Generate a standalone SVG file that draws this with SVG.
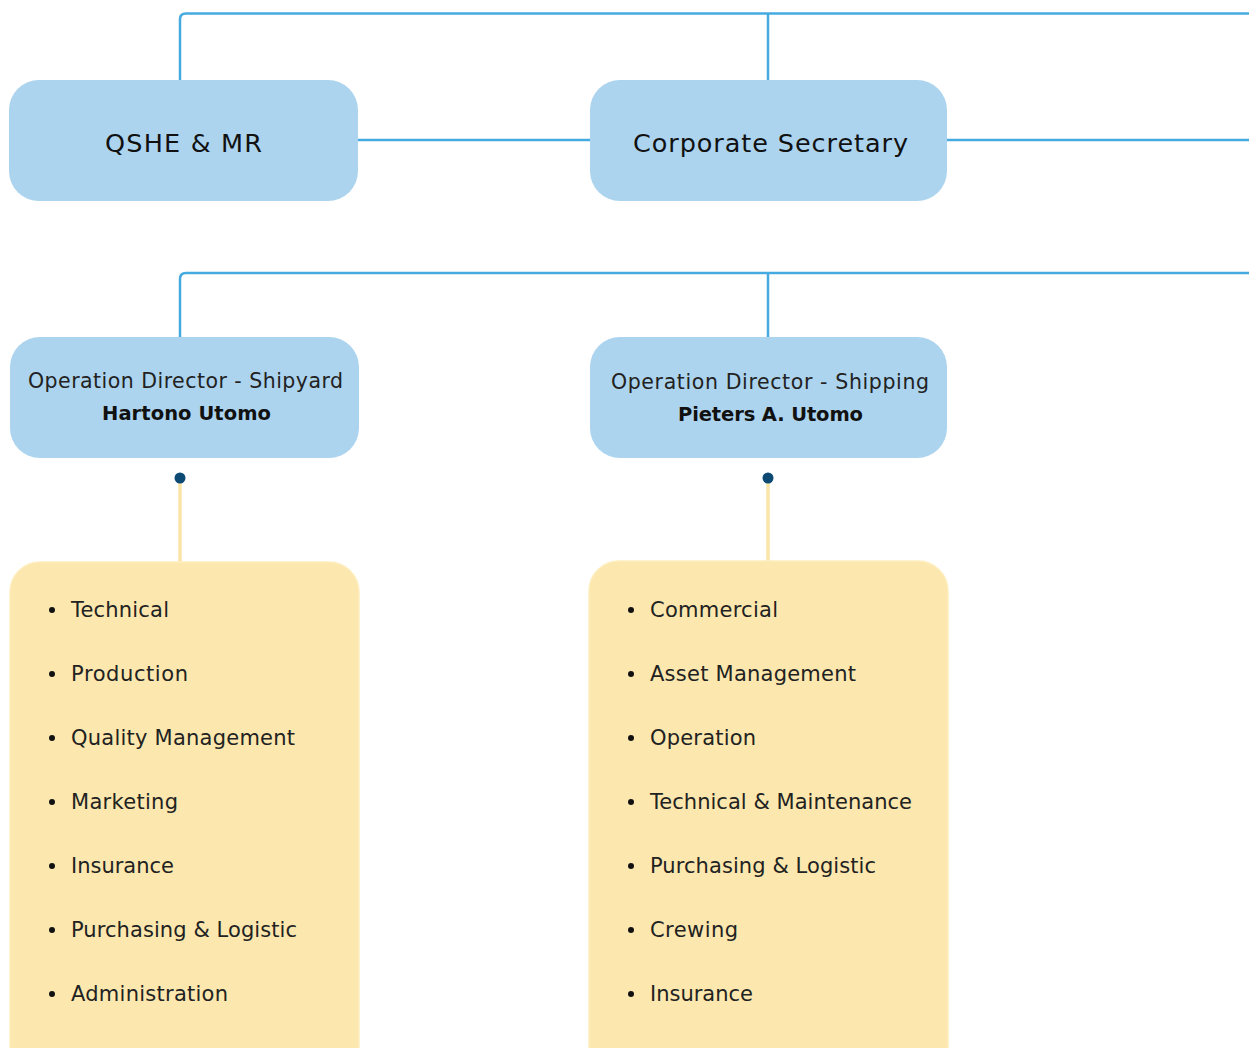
<svg xmlns="http://www.w3.org/2000/svg" width="1249" height="1048" viewBox="0 0 1249 1048">
<style>
.conn{fill:none;stroke:#45aadf;stroke-width:2.5}
.stem{fill:none;stroke:#fbe5a6;stroke-width:3.5}
.dot{fill:#0c4a74}
.blue{fill:#acd4ef}
.yellow{fill:#fce8ae;stroke:#fdeebf;stroke-width:1.5}
.t{font-family:"DejaVu Sans","Noto Sans",sans-serif;fill:#111}
.big{font-size:25.5px;text-anchor:middle}
.role{font-size:20.5px;text-anchor:middle;fill:#222}
.name{font-size:19.5px;text-anchor:middle;font-weight:bold}
.item{font-size:21px;fill:#222}
.bul{fill:#111}
</style>
<g id="connectors">
<path class="conn" d="M180,80 V19 Q180,13.5 186,13.5 H1249"/>
<path class="conn" d="M768,13.5 V80"/>
<path class="conn" d="M358,140 H590 M947,140 H1249"/>
<path class="conn" d="M180,337 V279 Q180,273 186,273 H1249"/>
<path class="conn" d="M768,273 V337"/>
<path class="stem" d="M180,478 V562"/>
<path class="stem" d="M768,478 V562"/>
<circle class="dot" cx="180" cy="478" r="5.5"/>
<circle class="dot" cx="768" cy="478" r="5.5"/>
</g>
<g id="qshe">
<rect class="blue" x="9" y="80" width="349" height="121" rx="30"/>
<text class="t big" x="183.5" y="152" textLength="157" lengthAdjust="spacing">QSHE &amp; MR</text>
</g>
<g id="corpsec">
<rect class="blue" x="590" y="80" width="357" height="121" rx="30"/>
<text class="t big" x="770.5" y="152" textLength="275" lengthAdjust="spacing">Corporate Secretary</text>
</g>
<g id="opdir-shipyard">
<rect class="blue" x="10" y="337" width="349" height="121" rx="30"/>
<text class="t role" x="185.5" y="388" textLength="315" lengthAdjust="spacing">Operation Director - Shipyard</text>
<text class="t name" x="186.5" y="420" textLength="169" lengthAdjust="spacing">Hartono Utomo</text>
</g>
<g id="opdir-shipping">
<rect class="blue" x="590" y="337" width="357" height="121" rx="30"/>
<text class="t role" x="770" y="389" textLength="318" lengthAdjust="spacing">Operation Director - Shipping</text>
<text class="t name" x="770.5" y="421" textLength="185" lengthAdjust="spacing">Pieters A. Utomo</text>
</g>
<g id="shipyard-units">
<rect class="yellow" x="10" y="562" width="349" height="520" rx="30"/>
<g class="bul">
<circle cx="52" cy="610" r="3"/><circle cx="52" cy="674" r="3"/><circle cx="52" cy="738" r="3"/><circle cx="52" cy="802" r="3"/><circle cx="52" cy="866" r="3"/><circle cx="52" cy="930" r="3"/><circle cx="52" cy="994" r="3"/>
</g>
<text class="t item" x="71" y="617" textLength="98" lengthAdjust="spacing">Technical</text>
<text class="t item" x="71" y="681" textLength="117" lengthAdjust="spacing">Production</text>
<text class="t item" x="71" y="745" textLength="224" lengthAdjust="spacing">Quality Management</text>
<text class="t item" x="71" y="809" textLength="107" lengthAdjust="spacing">Marketing</text>
<text class="t item" x="71" y="873" textLength="103" lengthAdjust="spacing">Insurance</text>
<text class="t item" x="71" y="937" textLength="226" lengthAdjust="spacing">Purchasing &amp; Logistic</text>
<text class="t item" x="71" y="1001" textLength="157" lengthAdjust="spacing">Administration</text>
</g>
<g id="shipping-units">
<rect class="yellow" x="589" y="561" width="359" height="520" rx="30"/>
<g class="bul">
<circle cx="631" cy="610" r="3"/><circle cx="631" cy="674" r="3"/><circle cx="631" cy="738" r="3"/><circle cx="631" cy="802" r="3"/><circle cx="631" cy="866" r="3"/><circle cx="631" cy="930" r="3"/><circle cx="631" cy="994" r="3"/>
</g>
<text class="t item" x="650" y="617" textLength="128" lengthAdjust="spacing">Commercial</text>
<text class="t item" x="650" y="681" textLength="206" lengthAdjust="spacing">Asset Management</text>
<text class="t item" x="650" y="745" textLength="106" lengthAdjust="spacing">Operation</text>
<text class="t item" x="650" y="809" textLength="262" lengthAdjust="spacing">Technical &amp; Maintenance</text>
<text class="t item" x="650" y="873" textLength="226" lengthAdjust="spacing">Purchasing &amp; Logistic</text>
<text class="t item" x="650" y="937" textLength="88" lengthAdjust="spacing">Crewing</text>
<text class="t item" x="650" y="1001" textLength="103" lengthAdjust="spacing">Insurance</text>
</g>
</svg>
